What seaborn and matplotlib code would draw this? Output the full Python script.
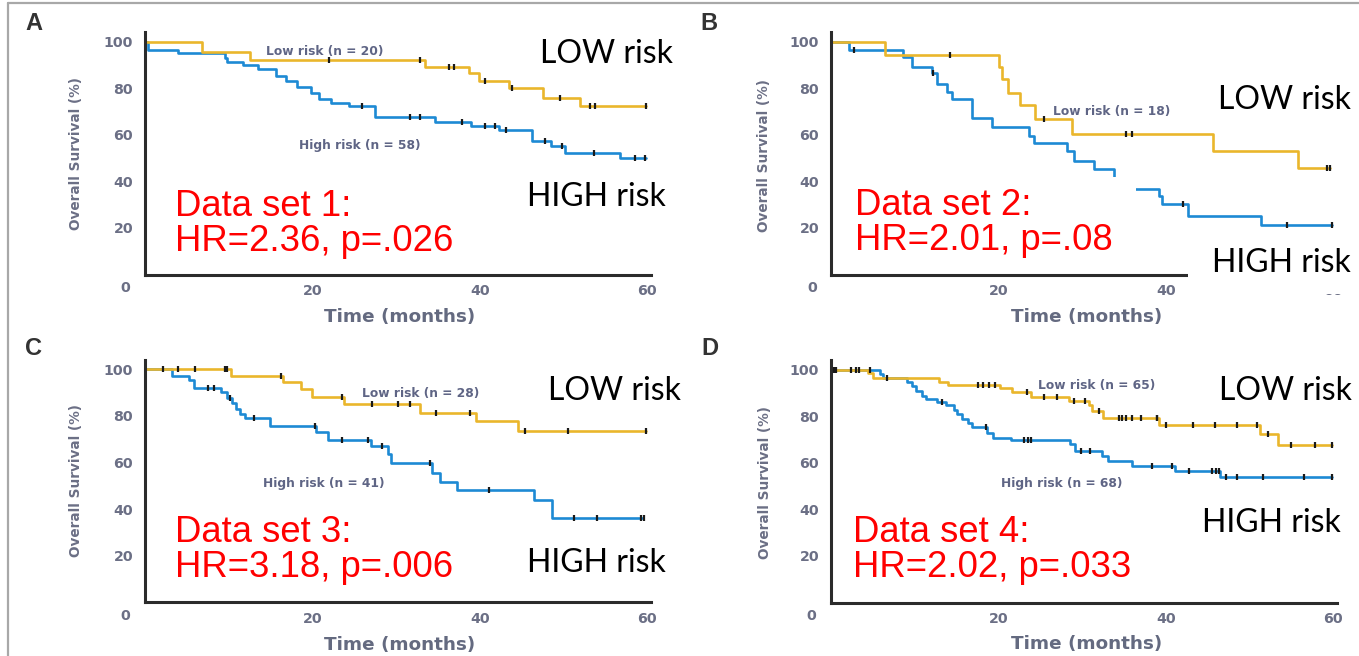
import numpy as np
import matplotlib
matplotlib.use("Agg")
import matplotlib.pyplot as plt
import seaborn as sns
from matplotlib.patches import Rectangle
from matplotlib.lines import Line2D

# ---------------- data ----------------
# Panel A
a_low_t = [0, 6.8, 12.5, 33.5, 38.7, 39.9, 43.5, 47.6, 52.0, 59.8]
a_low_s = [100, 95.5, 92.2, 89.0, 86.5, 82.9, 80.0, 75.8, 72.5, 72.5]
a_low_c = [22.0, 32.9, 36.3, 36.9, 40.6, 43.8, 49.6, 53.2, 53.8, 59.8]
a_high_t = [0, 0.4, 4.0, 9.5, 9.8, 11.7, 13.5, 15.6, 16.8, 18.2, 19.8, 20.8, 22.2, 24.4,
            27.5, 34.6, 38.9, 42.3, 46.2, 48.5, 50.2, 56.7, 59.8]
a_high_s = [100, 96.4, 95.0, 92.9, 91.0, 90.0, 88.2, 85.0, 82.9, 80.5, 77.9, 75.5, 73.6, 72.2,
            67.6, 65.3, 63.6, 62.2, 57.2, 55.0, 52.2, 50.1, 50.1]
a_high_c = [25.9, 31.7, 32.9, 37.9, 40.6, 41.8, 43.1, 47.8, 49.8, 53.6, 58.5, 59.7]

# Panel B
b_low_t = [0, 6.4, 20.1, 20.4, 21.2, 22.6, 24.4, 28.8, 45.6, 55.8, 59.6]
b_low_s = [100, 94.4, 89.2, 83.7, 77.7, 72.6, 66.6, 60.5, 53.0, 45.9, 45.9]
b_low_c = [14.2, 25.5, 35.2, 36.0, 59.2, 59.6]
b_high_t = [0, 2.1, 8.6, 9.7, 12.1, 12.7, 13.9, 14.5, 16.9, 19.2, 23.6, 24.2, 28.2, 29.0,
            31.4, 33.8, 35.0, 39.2, 39.6, 42.7, 51.4, 59.9]
b_high_s = [100, 96.3, 93.4, 89.2, 86.3, 81.6, 78.3, 75.2, 67.3, 63.5, 59.4, 56.6, 53.0, 48.7,
            45.2, 41.0, 36.9, 33.7, 30.2, 25.2, 21.3, 21.3]
b_high_c = [2.7, 12.2, 42.0, 54.5, 59.9]

# Panel C
c_low_t = [0, 10.3, 16.5, 18.6, 20.0, 23.8, 32.9, 39.6, 44.6, 59.8]
c_low_s = [100, 97.3, 94.4, 91.4, 88.0, 85.0, 81.1, 77.8, 73.5, 73.5]
c_low_c = [2.1, 4.0, 6.0, 9.5, 9.8, 16.3, 23.5, 27.1, 30.2, 31.7, 34.8, 38.8, 45.4, 50.5, 59.8]
c_high_t = [0, 3.2, 5.2, 5.8, 9.1, 9.8, 10.4, 10.9, 11.3, 11.9, 14.9, 20.4, 21.9, 27.0,
            29.0, 29.4, 34.3, 35.3, 37.3, 46.5, 48.6, 59.5]
c_high_s = [100, 97.3, 95.4, 92.1, 90.4, 87.8, 85.4, 83.1, 80.7, 79.0, 75.8, 73.0, 69.7, 67.2,
            63.8, 59.7, 55.4, 51.8, 48.2, 43.9, 36.1, 36.1]
c_high_c = [7.5, 8.3, 10.2, 13.0, 20.3, 23.5, 26.6, 28.3, 34.1, 41.1, 51.3, 54.0, 59.3, 59.6]

# Panel D
d_low_t = [0, 4.4, 5.0, 12.9, 14.0, 20.2, 21.6, 23.9, 28.4, 30.8, 31.2, 32.5, 39.2, 51.2, 53.4, 59.9]
d_low_s = [100, 98.5, 96.2, 94.8, 93.4, 92.0, 90.5, 88.4, 86.5, 84.8, 82.2, 79.2, 76.0, 72.3, 67.6, 67.6]
d_low_c = [0.3, 0.6, 2.4, 3.0, 3.4, 6.7, 17.6, 18.2, 18.9, 19.6, 23.4, 25.5, 27.0, 29.0, 30.4,
           32.0, 34.4, 34.8, 35.2, 36.0, 37.0, 38.9, 39.0, 40.0, 43.2, 45.9, 48.5, 50.9, 52.2,
           55.0, 57.8, 59.9]
d_high_t = [0, 5.8, 6.2, 9.1, 9.7, 10.2, 10.9, 11.3, 12.7, 13.7, 14.7, 15.1, 15.6, 16.4, 16.9,
            18.6, 19.3, 21.5, 28.6, 29.2, 32.4, 33.1, 36.0, 41.1, 46.5, 59.9]
d_high_s = [100, 97.9, 96.5, 94.8, 93.1, 90.8, 88.8, 87.3, 86.2, 84.8, 82.6, 80.8, 78.8, 76.9, 75.5,
            72.6, 70.6, 69.7, 68.0, 65.0, 63.0, 60.6, 58.6, 56.5, 53.8, 53.8]
d_high_c = [4.7, 13.3, 18.5, 23.1, 23.5, 23.9, 29.9, 30.9, 38.4, 40.8, 42.8, 45.5, 46.0, 46.4,
            47.2, 48.5, 51.6, 56.5, 59.9]

panel_letters = ["A", "B", "C", "D"]
low_labels = ["Low risk (n = 20)", "Low risk (n = 18)", "Low risk (n = 28)", "Low risk (n = 65)"]
high_labels = ["High risk (n = 58)", None, "High risk (n = 41)", "High risk (n = 68)"]
set_lines1 = ["Data set 1:", "Data set 2:", "Data set 3:", "Data set 4:"]
set_lines2 = ["HR=2.36, p=.026", "HR=2.01, p=.08", "HR=3.18, p=.006", "HR=2.02, p=.033"]
ytick_vals = [20, 40, 60, 80, 100]
xtick_vals = [20, 40, 60]
x_label = "Time (months)"
y_label = "Overall Survival (%)"

# ---------------- styling ----------------
W, H = 1359, 656
sns.set_style("white")
plt.rcParams['font.family'] = ['DejaVu Sans']

LOW_COL = "#EAB62C"
HIGH_COL = "#1D8AD4"
TICK_COL = "#6b6f85"
AX_COL = "#2b2b2b"

fig = plt.figure(figsize=(W / 100, H / 100), dpi=100)
fig.patch.set_facecolor("white")


def fx(px):
    return px / W


def fy(py):
    return 1 - py / H


XS = 8.37   # px per month
YS = 2.33   # px per percent
origins = [(145, 274.5), (831, 274.5), (145, 602.3), (831, 602.5)]

data = [
    (a_low_t, a_low_s, a_low_c, a_high_t, a_high_s, a_high_c),
    (b_low_t, b_low_s, b_low_c, b_high_t, b_high_s, b_high_c),
    (c_low_t, c_low_s, c_low_c, c_high_t, c_high_s, c_high_c),
    (d_low_t, d_low_s, d_low_c, d_high_t, d_high_s, d_high_c),
]


def step_at(ts, ss, c):
    i = np.searchsorted(np.asarray(ts), c, side="right") - 1
    return np.asarray(ss)[i]


axes = []
for k, (x0, y0) in enumerate(origins):
    ax = fig.add_axes([fx(x0), fy(y0), 60.5 * XS / W, 104 * YS / H])
    axes.append(ax)
    lt, ls, lc, ht, hs, hc = data[k]
    sns.lineplot(x=ht, y=hs, drawstyle="steps-post", estimator=None, errorbar=None,
                 sort=False, color=HIGH_COL, linewidth=1.9, ax=ax, zorder=2)
    sns.lineplot(x=lt, y=ls, drawstyle="steps-post", estimator=None, errorbar=None,
                 sort=False, color=LOW_COL, linewidth=1.9, ax=ax, zorder=2)
    for ts, ss, cs in ((ht, hs, hc), (lt, ls, lc)):
        cy = [step_at(ts, ss, c) for c in cs]
        sns.scatterplot(x=cs, y=cy, marker="|", s=20, color="#1a1a1a",
                        linewidth=1.6, ax=ax, zorder=3)
    ax.set_xlim(0, 60.5)
    ax.set_ylim(0, 104)
    ax.set_yticks(ytick_vals, labels=[str(v) for v in ytick_vals],
                  fontweight="bold", fontsize=10.2, color=TICK_COL)
    ax.set_xticks(xtick_vals, labels=[str(v) for v in xtick_vals],
                  fontweight="bold", fontsize=10.2, color=TICK_COL)
    ax.tick_params(axis="y", length=7, width=1.8, pad=1.5, color=AX_COL)
    ax.tick_params(axis="x", length=4, width=1.8, pad=3, color=AX_COL)
    ax.set_xlabel("")
    ax.set_ylabel("")
    for sp in ("top", "right"):
        ax.spines[sp].set_visible(False)
    for sp in ("left", "bottom"):
        ax.spines[sp].set_color(AX_COL)
        ax.spines[sp].set_linewidth(2.2)
    ax.set_facecolor("none")

# origin "0" labels
for (px, py) in [(125, 288.5), (812, 288.5), (125, 615.5), (811, 616)]:
    fig.text(fx(px), fy(py), "0", ha="center", va="center", fontsize=10.2,
             fontweight="bold", color=TICK_COL)

# axis titles
for (px, py) in [(76, 154), (764, 156), (76, 481), (765, 483)]:
    fig.text(fx(px), fy(py), y_label, rotation=90, ha="center", va="center",
             fontsize=9.8, fontweight="bold", color=TICK_COL)
for (px, py) in [(400, 317), (1087, 317), (400, 645), (1087, 644)]:
    fig.text(fx(px), fy(py), x_label, ha="center", va="center",
             fontsize=13.2, fontweight="bold", color="#646a80")

# panel letters
for lab, (px, py) in zip(panel_letters, [(25, 30), (700, 30), (25, 355), (701, 355)]):
    fig.text(fx(px), fy(py), lab, ha="left", va="baseline", fontsize=17,
             fontweight="bold", color="#333333", family=["Liberation Sans", "DejaVu Sans"])

# small group labels
SMALL_COL = "#5f6585"
for lab, (px, py) in zip(low_labels, [(325, 51.7), (1112, 112), (421, 394), (1097, 385)]):
    fig.text(fx(px), fy(py), lab, ha="center", va="center", fontsize=8.8,
             fontweight="bold", color=SMALL_COL)
for lab, pos in zip(high_labels, [(360, 145), None, (324, 484), (1062, 483)]):
    if lab is None:
        continue
    px, py = pos
    fig.text(fx(px), fy(py), lab, ha="center", va="center", fontsize=8.8,
             fontweight="bold", color=SMALL_COL)

# white cover boxes in panel B
for (x1, y1, x2, y2) in [(847, 177, 1136, 264), (1188, 236, 1362, 294)]:
    fig.patches.append(Rectangle((fx(x1), fy(y2)), (x2 - x1) / W, (y2 - y1) / H,
                                 transform=fig.transFigure, facecolor="white",
                                 edgecolor="none", zorder=1))

# LOW / HIGH risk labels
BIG = dict(fontsize=23, color="black", family=["Lato", "DejaVu Sans"], ha="left", va="baseline", zorder=5)
for (px, py) in [(540, 63), (1218, 109), (548, 400), (1219, 400)]:
    fig.text(fx(px), fy(py), "LOW risk", **BIG)
for (px, py) in [(527, 206.5), (1212, 272), (527, 571.5), (1202, 531.7)]:
    fig.text(fx(px), fy(py), "HIGH risk", **BIG)

# red annotation text
RED = dict(fontsize=26.3, color="#ff0000", family=["Liberation Sans", "DejaVu Sans"],
           ha="left", va="baseline", zorder=5)
for l1, l2, (px, b1, b2) in zip(set_lines1, set_lines2,
                                [(175, 216, 251), (855, 215, 250), (175, 541.7, 576.7), (853, 541.7, 576.7)]):
    fig.text(fx(px), fy(b1), l1, **RED)
    fig.text(fx(px), fy(b2), l2, **RED)

# outer frame lines
fig.lines.append(Line2D([fx(8), fx(8)], [fy(3), fy(660)], transform=fig.transFigure,
                        color="#a8a8a8", linewidth=1.6))
fig.lines.append(Line2D([fx(8), fx(1362)], [fy(3), fy(3)], transform=fig.transFigure,
                        color="#a8a8a8", linewidth=1.6))

fig.savefig("out.png", dpi=100, facecolor="white")
